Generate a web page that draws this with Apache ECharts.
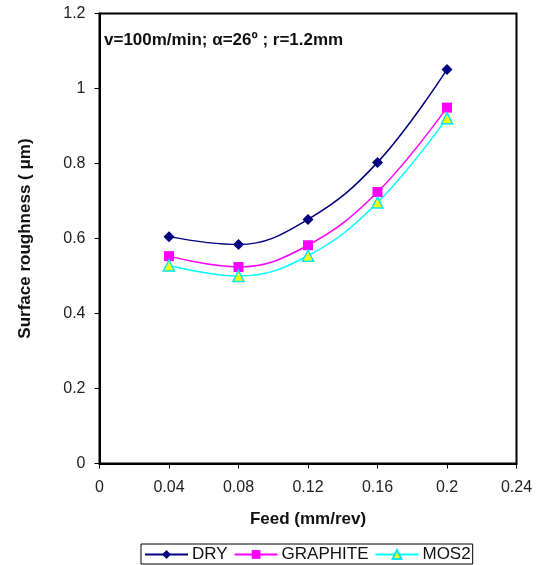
<!DOCTYPE html>
<html><head><meta charset="utf-8">
<script src="https://cdn.jsdelivr.net/npm/echarts@6/dist/echarts.min.js"></script>
<style>html,body{margin:0;padding:0;background:#fff}#c{width:542px;height:565px}</style>
</head><body><div id="c"></div>
<script>
const feed = [0.04, 0.08, 0.12, 0.16, 0.2];
const dry = [0.605, 0.584, 0.651, 0.803, 1.051];
const graphite = [0.553, 0.524, 0.582, 0.724, 0.949];
const mos2 = [0.528, 0.500, 0.554, 0.696, 0.921];
const seriesNames = ['DRY', 'GRAPHITE', 'MOS2'];
const annotation = 'v=100m/min; α=26º ; r=1.2mm';

const chart = echarts.init(document.getElementById('c'), null, {renderer: 'canvas'});
const font = 'Liberation Sans, Arial, sans-serif';
function pairs(v){ return feed.map((x,i)=>[x,v[i]]); }
chart.setOption({
  animation: false,
  backgroundColor: '#fff',
  textStyle: {fontFamily: font},
  grid: {left: 99.5, right: 25.5, top: 13.5, bottom: 101.5, show: true, borderColor: '#000', borderWidth: 2, backgroundColor: 'transparent'},
  xAxis: {
    type: 'value', min: 0, max: 0.24, interval: 0.04,
    name: 'Feed (mm/rev)', nameLocation: 'middle', nameGap: 47,
    nameTextStyle: {fontSize: 17, fontWeight: 'bold', color: '#111', fontFamily: font},
    axisLine: {show: true, lineStyle: {color: '#000', width: 2}},
    axisTick: {show: true, inside: false, length: 5, lineStyle: {color: '#000'}},
    axisLabel: {fontSize: 16, color: '#222', margin: 16, fontFamily: font, formatter: v => String(+v.toFixed(2))},
    splitLine: {show: false}
  },
  yAxis: {
    type: 'value', min: 0, max: 1.2, interval: 0.2,
    name: 'Surface roughness ( μm)', nameLocation: 'middle', nameGap: 66, nameRotate: 90,
    nameTextStyle: {fontSize: 17, fontWeight: 'bold', color: '#111', fontFamily: font},
    axisLine: {show: true, lineStyle: {color: '#000', width: 2}},
    axisTick: {show: true, inside: false, length: 5, lineStyle: {color: '#000'}},
    axisLabel: {fontSize: 16, color: '#222', margin: 14, fontFamily: font, formatter: v => String(+v.toFixed(1))},
    splitLine: {show: false}
  },
  legend: {
    bottom: 1, left: 141, data: seriesNames,
    itemWidth: 43, itemHeight: 11, itemGap: 6,
    padding: [2, 2, 1, 3],
    borderColor: '#000', borderWidth: 1,
    textStyle: {fontSize: 17, color: '#111', fontFamily: font, padding: [0,0,0,-1]}
  },
  graphic: [{
    type: 'text', left: 104, top: 32,
    style: {text: annotation, fontSize: 17, fontWeight: 'bold', fill: '#111', fontFamily: font}
  }],
  series: [
    {name: 'DRY', type: 'line', smooth: 0.4, data: pairs(dry), symbol: 'diamond', symbolSize: 11,
     lineStyle: {color: '#000080', width: 1.5}, itemStyle: {color: '#000080'}},
    {name: 'GRAPHITE', type: 'line', smooth: 0.4, data: pairs(graphite), symbol: 'rect', symbolSize: 10,
     lineStyle: {color: '#ff00ff', width: 1.5}, itemStyle: {color: '#ff00ff'}},
    {name: 'MOS2', type: 'line', smooth: 0.4, data: pairs(mos2), symbol: 'triangle', symbolSize: 11,
     lineStyle: {color: '#00ffff', width: 1.5}, itemStyle: {color: '#ffff00', borderColor: '#00e5ff', borderWidth: 1.5}}
  ]
});
</script></body></html>
